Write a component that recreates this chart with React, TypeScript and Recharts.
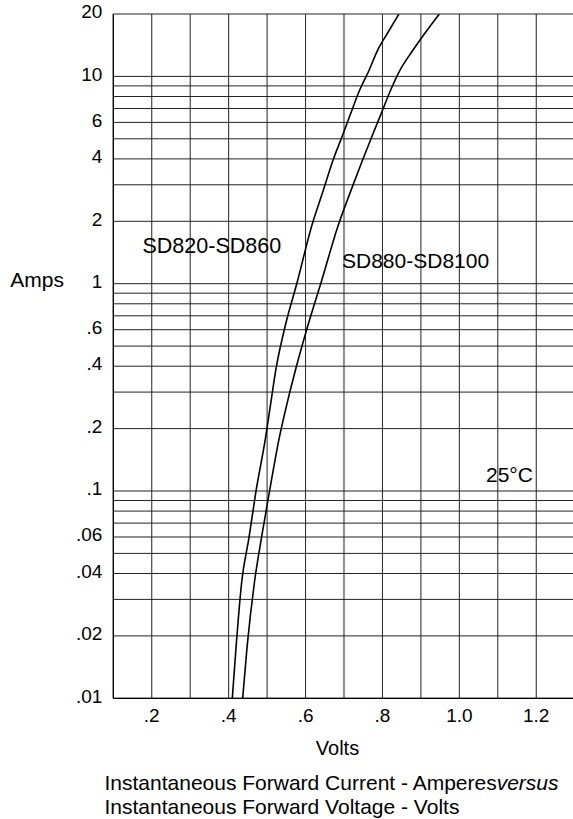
import React from 'react';
import { LineChart, Line, XAxis, YAxis, CartesianGrid } from 'recharts';

// Curve SD820-SD860 (left curve)
const voltsA = [0.4095, 0.4191, 0.4339, 0.4529, 0.4698, 0.4964, 0.5101, 0.5218, 0.5466, 0.5778, 0.616, 0.6462, 0.6714, 0.6966, 0.7156, 0.7416, 0.7632, 0.7876, 0.8126, 0.843];
const ampsA = [0.01, 0.0175, 0.0364, 0.0595, 0.0964, 0.183, 0.27, 0.376, 0.62, 1.01, 1.9, 2.82, 3.94, 5.22, 6.49, 8.67, 10.5, 13.4, 16.1, 20];

// Curve SD880-SD8100 (right curve)
const voltsB = [0.4365, 0.4477, 0.4672, 0.4854, 0.5049, 0.5323, 0.5531, 0.5726, 0.6051, 0.6402, 0.6844, 0.7182, 0.7481, 0.7741, 0.7949, 0.8222, 0.843, 0.8795, 0.9479];
const ampsB = [0.01, 0.0175, 0.0364, 0.0595, 0.0964, 0.183, 0.27, 0.376, 0.62, 1.01, 1.9, 2.82, 3.94, 5.22, 6.49, 8.67, 10.5, 13.4, 20];

// Grid ticks
const xGridTicks = [0.1, 0.2, 0.3, 0.4, 0.5, 0.6, 0.7, 0.8, 0.9, 1.0, 1.1, 1.2, 1.3];
const yGridTicks = [
  0.01, 0.02, 0.03, 0.04, 0.05, 0.06, 0.07, 0.08, 0.09,
  0.1, 0.2, 0.3, 0.4, 0.5, 0.6, 0.7, 0.8, 0.9,
  1, 2, 3, 4, 5, 6, 7, 8, 9, 10, 20,
];

// Tick labels
const xLabelValues = [0.2, 0.4, 0.6, 0.8, 1.0, 1.2];
const xLabelTexts = ['.2', '.4', '.6', '.8', '1.0', '1.2'];
const yLabelValues = [0.01, 0.02, 0.04, 0.06, 0.1, 0.2, 0.4, 0.6, 1, 2, 4, 6, 10, 20];
const yLabelTexts = ['.01', '.02', '.04', '.06', '.1', '.2', '.4', '.6', '1', '2', '4', '6', '10', '20'];

const seriesA = voltsA.map((v, i) => ({ v, a: ampsA[i] }));
const seriesB = voltsB.map((v, i) => ({ v, a: ampsB[i] }));

const FONT = '"Liberation Sans", Arial, Helvetica, sans-serif';

function findLabel(values: number[], texts: string[], val: number) {
  for (let i = 0; i < values.length; i++) {
    if (Math.abs(values[i] - val) < 1e-6 * Math.max(1, val)) return texts[i];
  }
  return null;
}

const XTick = (props: any) => {
  const { x, y, payload } = props;
  const label = findLabel(xLabelValues, xLabelTexts, payload.value);
  if (!label) return null;
  return (
    <text x={x} y={y} dy={23.4} textAnchor="middle" fontFamily={FONT} fontSize={19} fill="#000">
      {label}
    </text>
  );
};

const YTick = (props: any) => {
  const { x, y, payload } = props;
  const label = findLabel(yLabelValues, yLabelTexts, payload.value);
  if (!label) return null;
  return (
    <text x={x} y={y} dy={4.3} textAnchor="end" fontFamily={FONT} fontSize={19} fill="#000">
      {label}
    </text>
  );
};

export default function App() {
  return (
    <div
      style={{
        position: 'absolute',
        left: 8,
        top: 0,
        width: 565,
        height: 819,
        overflow: 'hidden',
        background: '#fff',
      }}
    >
      <LineChart width={570} height={728.3} margin={{ top: 14, right: 3.3, bottom: 0, left: 0 }}>
        <CartesianGrid stroke="#222" strokeWidth={1} />
        <XAxis
          dataKey="v"
          type="number"
          domain={[0.1, 1.3]}
          ticks={xGridTicks}
          interval={0}
          allowDataOverflow
          height={30}
          tickLine={false}
          tickSize={0}
          tickMargin={0}
          axisLine={{ stroke: '#000', strokeWidth: 1.2 }}
          tick={<XTick />}
        />
        <YAxis
          type="number"
          scale="log"
          domain={[0.01, 20]}
          ticks={yGridTicks}
          interval={0}
          allowDataOverflow
          width={105.3}
          tickLine={false}
          tickSize={0}
          tickMargin={11}
          axisLine={{ stroke: '#000', strokeWidth: 1.2 }}
          tick={<YTick />}
        />
        <Line data={seriesA} dataKey="a" type="monotone" stroke="#000" strokeWidth={1.6} dot={false} isAnimationActive={false} />
        <Line data={seriesB} dataKey="a" type="monotone" stroke="#000" strokeWidth={1.6} dot={false} isAnimationActive={false} />
      </LineChart>
      <svg
        width={565}
        height={819}
        style={{ position: 'absolute', left: 0, top: 0, pointerEvents: 'none' }}
        fontFamily={FONT}
      >
        <text x={56} y={287} textAnchor="end" fontSize={21} fill="#000">Amps</text>
        <text x={134.5} y={253.3} fontSize={21.5} fill="#000">SD820-SD860</text>
        <text x={334} y={268.3} fontSize={21} fill="#000">SD880-SD8100</text>
        <text x={478} y={481.7} fontSize={21} fill="#000">25°C</text>
        <text x={329.5} y={755} textAnchor="middle" fontSize={20} fill="#000">Volts</text>
        <text x={96.5} y={790} fontSize={21} fill="#000">
          Instantaneous Forward Current - Amperes<tspan fontStyle="italic">versus</tspan>
        </text>
        <text x={96.5} y={814} fontSize={21} fill="#000">Instantaneous Forward Voltage - Volts</text>
      </svg>
    </div>
  );
}
